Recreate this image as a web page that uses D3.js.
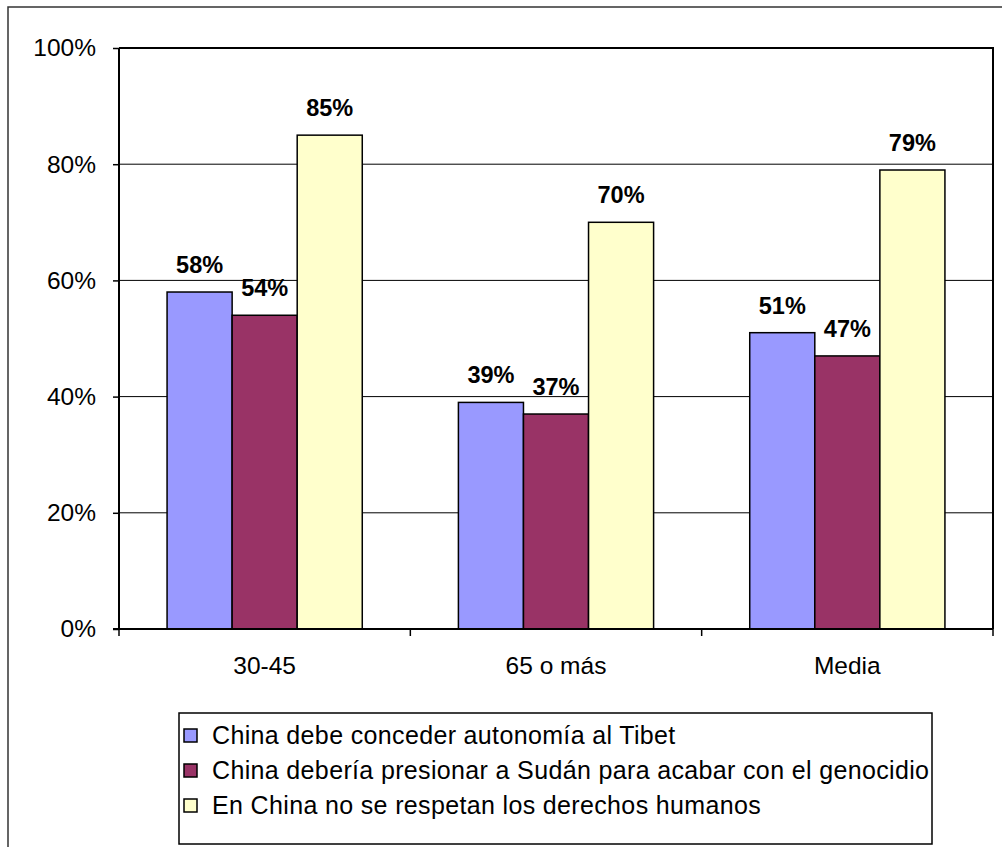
<!DOCTYPE html>
<html>
<head>
<meta charset="utf-8">
<script src="https://cdn.jsdelivr.net/npm/d3@7"></script>
<style>
  body { margin: 0; background: #fff; }
  svg { display: block; font-family: "Liberation Sans", Arial, sans-serif; }
</style>
</head>
<body>
<svg id="drawing_region"></svg>
<script>
const categories = ["30-45", "65 o más", "Media"];
const seriesNames = [
    "China debe conceder autonomía al Tibet",
    "China debería presionar a Sudán para acabar con el genocidio",
    "En China no se respetan los derechos humanos"
];
const tibet = [58, 39, 51];
const sudan = [54, 37, 47];
const derechos = [85, 70, 79];
const yTicks = [0, 20, 40, 60, 80, 100];
const colors = ["#9999ff", "#993366", "#ffffcc"];

const seriesValues = [tibet, sudan, derechos];
const data = categories.map((c, i) => ({
    cat: c,
    values: seriesNames.map((s, j) => ({ key: s, value: seriesValues[j][i], color: colors[j] }))
}));

const config = {
    width: 1002,
    height: 847,
    margin: { top: 48, right: 9, bottom: 218, left: 119 }
};

const svg = d3.select('#drawing_region')
    .attr('width', config.width)
    .attr('height', config.height);

const inner_width = config.width - config.margin.left - config.margin.right;
const inner_height = config.height - config.margin.top - config.margin.bottom;

// outer chart frame
svg.append('rect')
    .attr('x', 8).attr('y', 7)
    .attr('width', 1010).attr('height', 900)
    .attr('fill', 'none')
    .attr('stroke', '#333')
    .attr('stroke-width', 1.5);

const chart = svg.append('g')
    .attr('transform', `translate(${config.margin.left}, ${config.margin.top})`);

const xscale = d3.scaleBand()
    .domain(categories)
    .range([0, inner_width]);

const bw = xscale.bandwidth();
const xsub = d3.scaleBand()
    .domain(seriesNames)
    .range([bw * 0.165, bw * 0.835]);

const yscale = d3.scaleLinear()
    .domain([0, 100])
    .range([inner_height, 0]);

// gridlines
chart.selectAll('.grid')
    .data(yTicks.filter(t => t > 0))
    .enter()
    .append('line')
    .attr('x1', 0).attr('x2', inner_width)
    .attr('y1', d => yscale(d)).attr('y2', d => yscale(d))
    .attr('stroke', 'black')
    .attr('stroke-width', 1);

// plot frame (top / right)
chart.append('path')
    .attr('d', `M0,0H${inner_width}V${inner_height}`)
    .attr('fill', 'none')
    .attr('stroke', 'black')
    .attr('stroke-width', 2);

// bars
const groups = chart.selectAll('.group')
    .data(data)
    .enter()
    .append('g')
    .attr('transform', d => `translate(${xscale(d.cat)},0)`);

groups.selectAll('rect')
    .data(d => d.values)
    .enter()
    .append('rect')
    .attr('x', d => xsub(d.key))
    .attr('y', d => yscale(d.value))
    .attr('width', xsub.bandwidth())
    .attr('height', d => inner_height - yscale(d.value))
    .attr('fill', d => d.color)
    .attr('stroke', 'black')
    .attr('stroke-width', 1.5);

groups.selectAll('text')
    .data(d => d.values)
    .enter()
    .append('text')
    .attr('x', d => xsub(d.key) + xsub.bandwidth() / 2)
    .attr('y', d => yscale(d.value) - 19)
    .attr('text-anchor', 'middle')
    .attr('font-size', '23.5px')
    .attr('font-weight', 'bold')
    .attr('fill', 'black')
    .text(d => d.value + '%');

// axes
const yaxis = d3.axisLeft(yscale)
    .tickValues(yTicks)
    .tickSize(6)
    .tickPadding(17)
    .tickFormat(d => d + '%');

const yaxis_group = chart.append('g').call(yaxis);
yaxis_group.select('.domain').remove();
yaxis_group.append('line')
    .attr('x1', 0).attr('x2', 0)
    .attr('y1', 0).attr('y2', inner_height)
    .attr('stroke', 'black').attr('stroke-width', 2);
yaxis_group.selectAll('.tick line').attr('stroke', 'black').attr('stroke-width', 1.5);
yaxis_group.selectAll('.tick text')
    .attr('font-size', '24.5px')
    .attr('font-family', '"Liberation Sans", Arial, sans-serif')
    .attr('fill', 'black');

const xaxis_group = chart.append('g')
    .attr('transform', `translate(0, ${inner_height})`);
xaxis_group.append('line')
    .attr('x1', -6).attr('x2', inner_width)
    .attr('stroke', 'black').attr('stroke-width', 2);
xaxis_group.selectAll('.xtick')
    .data(categories.concat(['end']))
    .enter()
    .append('line')
    .attr('x1', (d, i) => i < categories.length ? xscale(d) : inner_width)
    .attr('x2', (d, i) => i < categories.length ? xscale(d) : inner_width)
    .attr('y1', 0).attr('y2', 7)
    .attr('stroke', 'black').attr('stroke-width', 1.5);
xaxis_group.selectAll('.xlabel')
    .data(categories)
    .enter()
    .append('text')
    .attr('x', d => xscale(d) + bw / 2)
    .attr('y', 45)
    .attr('text-anchor', 'middle')
    .attr('font-size', '24.5px')
    .attr('fill', 'black')
    .text(d => d);

// legend
const legend = svg.append('g');
legend.append('rect')
    .attr('x', 179).attr('y', 713)
    .attr('width', 753).attr('height', 131)
    .attr('fill', 'white')
    .attr('stroke', 'black')
    .attr('stroke-width', 1.5);

const items = legend.selectAll('.item')
    .data(seriesNames)
    .enter()
    .append('g')
    .attr('transform', (d, i) => `translate(184, ${735 + i * 35})`);

items.append('rect')
    .attr('x', 0).attr('y', -6)
    .attr('width', 13).attr('height', 13)
    .attr('fill', (d, i) => colors[i])
    .attr('stroke', 'black')
    .attr('stroke-width', 1.5);

items.append('text')
    .attr('x', 28)
    .attr('y', 0)
    .attr('dy', '0.35em')
    .attr('font-size', '25px')
    .attr('letter-spacing', '0.35px')
    .attr('fill', 'black')
    .text(d => d);
</script>
</body>
</html>
